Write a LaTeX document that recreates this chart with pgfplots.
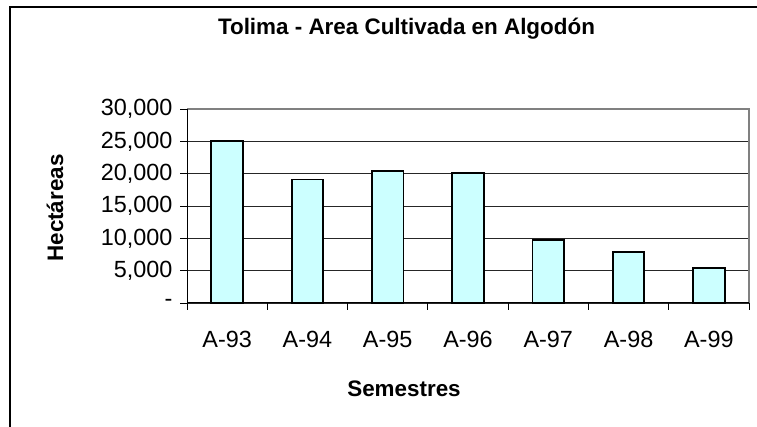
\documentclass[border=0pt]{standalone}
\usepackage{fontspec}
\setmainfont{Liberation Sans}
\usepackage{pgfplots}
\pgfplotsset{compat=1.18}

\definecolor{barfill}{HTML}{CCFFFF}
\definecolor{plotborder}{HTML}{808080}

\begin{document}
\begin{tikzpicture}
\useasboundingbox (0,0) rectangle (757bp,427bp);
% outer chart frame (cut at right and bottom)
\draw[line width=2bp] (10bp,-2bp) -- (10bp,420bp) -- (760bp,420bp);
\begin{axis}[
  at={(187bp,124bp)}, anchor=south west,
  scale only axis,
  width=562bp, height=194bp,
  ybar, bar width=31.5bp,
  xmin=-0.5, xmax=6.5,
  ymin=0, ymax=30000,
  xtick={0,...,6},
  xticklabels={A-93,A-94,A-95,A-96,A-97,A-98,A-99},
  minor xtick={-0.5,0.5,...,6.5},
  ytick={0,5000,...,30000},
  yticklabels={{-},{5,000},{10,000},{15,000},{20,000},{25,000},{30,000}},
  scaled y ticks=false,
  tick align=outside,
  major tick length=7bp, minor tick length=7bp,
  x tick style={draw=none},
  minor x tick style={draw=black, line width=0.8bp},
  y tick style={draw=black, line width=0.8bp},
  every tick label/.append style={font=\fontsize{23.5}{27}\selectfont},
  xticklabel style={yshift=-18bp},
  yticklabel style={xshift=-4bp},
  ymajorgrids, grid style={black!85, line width=0.8bp},
  axis line style={draw=none},
  axis x line*=bottom, axis y line*=left,
  clip=false,
]
\addplot[fill=barfill, draw=black, line width=1.8bp] coordinates {
  (0,25000) (1,19100) (2,20400) (3,20100) (4,9700) (5,7900) (6,5400)};
\draw[plotborder, line width=1.3bp] (axis cs:-0.5,30000) -- (axis cs:6.5,30000) -- (axis cs:6.5,0);
\draw[black, line width=1bp] (axis cs:-0.5,30000) -- (axis cs:-0.5,0) -- (axis cs:6.5,0);
\end{axis}
\node[font=\bfseries\fontsize{22.5}{26}\selectfont] at (406.5bp,398bp) {Tolima - Area Cultivada en Algodón};
\node[font=\bfseries\fontsize{22.5}{26}\selectfont] at (404bp,38bp) {Semestres};
\node[font=\bfseries\fontsize{22.5}{26}\selectfont, rotate=90] at (55bp,219bp) {Hectáreas};
\end{tikzpicture}
\end{document}
